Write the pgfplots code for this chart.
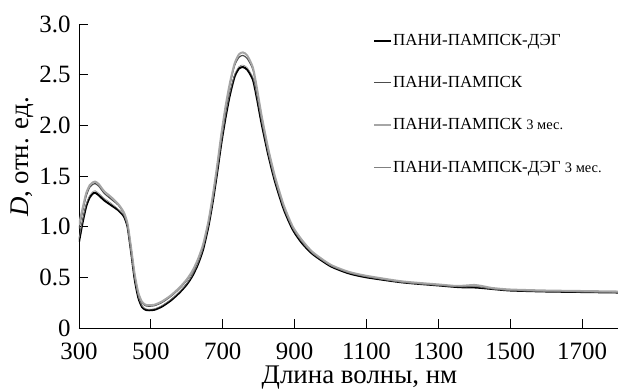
\documentclass[border=0pt]{standalone}
\usepackage{pgfplots}
\pgfplotsset{compat=1.18}
\usepackage{pgfplotstable}
\usepackage{fontspec}
\setmainfont{Liberation Serif}
\pgfplotstableread{
x A B C D
300 0.85 0.98 1.02 0.88
310 1.04 1.15 1.18 1.06
320 1.20 1.30 1.33 1.22
330 1.29 1.39 1.41 1.31
340 1.33 1.42 1.44 1.35
345 1.335 1.425 1.445 1.355
355 1.31 1.40 1.42 1.33
370 1.26 1.33 1.35 1.28
390 1.21 1.27 1.29 1.23
410 1.16 1.21 1.22 1.17
425 1.10 1.13 1.14 1.11
435 1.00 1.02 1.03 1.00
445 0.75 0.78 0.79 0.75
455 0.48 0.52 0.53 0.49
465 0.30 0.34 0.35 0.31
475 0.21 0.25 0.26 0.22
485 0.18 0.22 0.23 0.19
495 0.175 0.215 0.225 0.185
510 0.18 0.22 0.23 0.19
530 0.21 0.25 0.26 0.22
555 0.27 0.31 0.32 0.28
580 0.35 0.39 0.40 0.36
600 0.43 0.47 0.48 0.44
615 0.51 0.55 0.56 0.52
630 0.62 0.66 0.67 0.63
645 0.77 0.81 0.82 0.78
660 1.00 1.04 1.05 1.01
672 1.24 1.29 1.30 1.25
684 1.52 1.58 1.59 1.53
696 1.82 1.89 1.91 1.83
708 2.08 2.17 2.19 2.10
720 2.30 2.40 2.42 2.32
733 2.48 2.59 2.61 2.50
745 2.56 2.67 2.70 2.58
756 2.575 2.69 2.72 2.595
768 2.55 2.66 2.69 2.57
784 2.45 2.55 2.57 2.47
796 2.25 2.33 2.35 2.27
808 2.02 2.09 2.10 2.04
826 1.72 1.77 1.78 1.73
845 1.45 1.49 1.50 1.46
870 1.17 1.20 1.21 1.18
895 0.97 0.99 1.00 0.98
920 0.84 0.86 0.87 0.85
950 0.73 0.745 0.75 0.735
1000 0.61 0.62 0.625 0.615
1050 0.54 0.55 0.555 0.545
1100 0.50 0.51 0.515 0.505
1200 0.45 0.455 0.46 0.45
1300 0.42 0.425 0.43 0.42
1350 0.405 0.41 0.415 0.41
1380 0.40 0.41 0.42 0.405
1400 0.40 0.42 0.425 0.41
1420 0.395 0.41 0.415 0.40
1450 0.385 0.39 0.395 0.385
1500 0.37 0.375 0.38 0.37
1600 0.36 0.365 0.37 0.36
1700 0.355 0.36 0.365 0.355
1800 0.35 0.355 0.36 0.35
}\spectra
\begin{document}
\begin{tikzpicture}
\begin{axis}[
  name=ax,
  scale only axis,
  width=539bp, height=304bp,
  xmin=300, xmax=1800, ymin=0, ymax=3,
  axis lines=left,
  axis line style={-, line width=0.8pt},
  tick align=inside,
  major tick length=9bp,
  tick style={line width=0.8pt, black},
  xtick={300,500,700,900,1100,1300,1500,1700},
  xticklabels={300,500,700,900,1100,1300,1500,1700},
  ytick={0,0.5,1,1.5,2,2.5,3},
  yticklabels={0,0.5,1.0,1.5,2.0,2.5,3.0},
  ticklabel style={font=\fontsize{25}{25}\selectfont},
  xticklabel style={yshift=-11bp},
  yticklabel style={xshift=-5bp},
  xlabel={Длина волны, нм},
  ylabel={\textit{D}, отн. ед.},
  label style={font=\fontsize{27}{27}\selectfont},
  xlabel style={xshift=11bp, yshift=0bp},
  ylabel style={xshift=19bp, yshift=-1bp},
  legend cell align=left,
  legend style={at={(rel axis cs:0.54,0.98)}, anchor=north west, draw=none, fill=none,
    font=\fontsize{17}{17}\selectfont, row sep=25.5bp, nodes={inner xsep=1bp}},
  legend image code/.code={\draw[#1] (0bp,0bp) -- (17bp,0bp);},
  every axis plot/.append style={smooth, tension=0.4},
]
\addplot[black, line width=2pt] table[x=x,y=A]{\spectra};
\addlegendentry{ПАНИ-ПАМПСК-ДЭГ}
\addplot[black!70, line width=1.2pt] table[x=x,y=B]{\spectra};
\addlegendentry{ПАНИ-ПАМПСК}
\addplot[black!35, line width=2pt] table[x=x,y=C]{\spectra};
\addlegendentry{ПАНИ-ПАМПСК {\fontsize{14.5}{14.5}\selectfont 3 мес.}}
\addplot[black!50, line width=0.6pt] table[x=x,y=D]{\spectra};
\addlegendentry{ПАНИ-ПАМПСК-ДЭГ {\fontsize{14.5}{14.5}\selectfont 3 мес.}}
\end{axis}
\pgfresetboundingbox
\useasboundingbox ([xshift=-79bp,yshift=-61bp]ax.south west) rectangle ([yshift=24bp]ax.north east);
\end{tikzpicture}
\end{document}
